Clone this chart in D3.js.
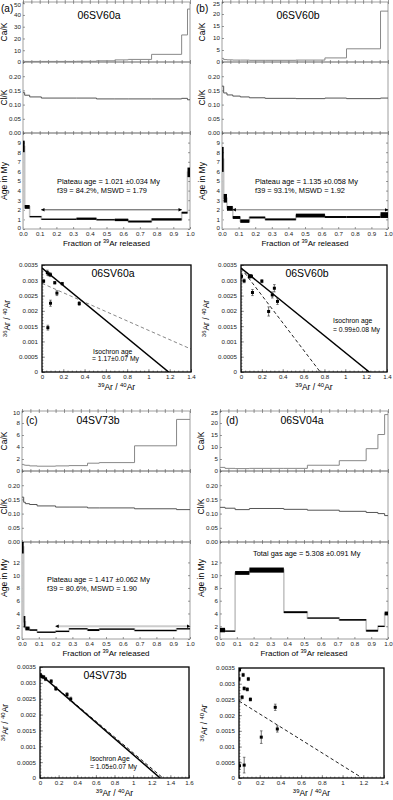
<!DOCTYPE html>
<html>
<head>
<meta charset="utf-8">
<script src="https://cdn.jsdelivr.net/npm/d3@7"></script>
<style>
  body { margin: 0; background: #fff; }
  svg { display: block; font-family: "Liberation Sans", Arial, sans-serif; }
</style>
</head>
<body>
<svg id="chart" width="393" height="800"></svg>
<script>
// ---------------- data: step heating spectra ----------------
// (a) 06SV60a
const fracA  = [0, 0.01, 0.04, 0.11, 0.32, 0.44, 0.55, 0.63, 0.77, 0.95, 0.985, 1.0];
const ageA   = [8.6, 2.3, 1.3, 1.02, 1.07, 0.98, 0.95, 0.78, 1.0, 1.7, 5.9];
const ageErrA = [0.6, 0.2, 0.05, 0.06, 0.12, 0.05, 0.13, 0.1, 0.12, 0.1, 0.5];
const caKA   = [0.6, 0.5, 0.5, 0.5, 0.6, 1.0, 1.8, 2.2, 6.5, 23, 45];
const clKA   = [0.142, 0.133, 0.127, 0.123, 0.123, 0.12, 0.12, 0.12, 0.12, 0.122, 0.117];

// (b) 06SV60b
const fracB  = [0, 0.01, 0.03, 0.065, 0.11, 0.165, 0.26, 0.445, 0.62, 0.75, 0.955, 1.0];
const ageB   = [7.25, 3.2, 2.15, 1.2, 0.82, 1.2, 1.0, 1.4, 1.25, 1.25, 1.45];
const ageErrB = [1.3, 0.45, 0.25, 0.15, 0.18, 0.1, 0.1, 0.2, 0.1, 0.1, 0.3];
const caKB   = [1.5, 1.0, 0.9, 0.8, 0.8, 0.7, 0.7, 0.8, 1.7, 5.5, 21.2];
const clKB   = [0.165, 0.141, 0.134, 0.13, 0.127, 0.124, 0.122, 0.121, 0.123, 0.121, 0.123];

// (c) 04SV73b
const fracC  = [0, 0.01, 0.02, 0.045, 0.09, 0.2, 0.28, 0.39, 0.46, 0.67, 0.92, 1.0];
const ageC   = [14.4, 2.7, 1.65, 1.4, 1.1, 1.2, 1.6, 1.4, 1.55, 1.35, 1.6];
const ageErrC = [1.0, 0.9, 0.3, 0.12, 0.06, 0.1, 0.1, 0.15, 0.1, 0.08, 0.1];
const caKC   = [1.1, 1.0, 0.95, 0.85, 0.8, 0.85, 0.9, 1.3, 1.4, 4.2, 8.6];
const clKC   = [0.158, 0.14, 0.135, 0.132, 0.127, 0.123, 0.123, 0.12, 0.12, 0.117, 0.114];

// (d) 06SV04a
const fracD  = [0, 0.03, 0.09, 0.175, 0.38, 0.52, 0.71, 0.87, 0.94, 0.98, 1.0];
const ageD   = [1.4, 1.25, 10.35, 10.8, 4.2, 3.3, 3.0, 1.3, 2.0, 4.0];
const ageErrD = [0.35, 0.08, 0.3, 0.4, 0.15, 0.08, 0.12, 0.15, 0.08, 0.3];
const caKD   = [1.5, 1.1, 1.0, 1.1, 1.1, 2.4, 4.3, 9.3, 15.2, 23.5];
const clKD   = [0.122, 0.119, 0.114, 0.118, 0.115, 0.112, 0.108, 0.104, 0.1, 0.093];

// ---------------- data: isochrons (39Ar/40Ar, 36Ar/40Ar, error) ----------------
const isoAx = [0.015, 0.05, 0.065, 0.08, 0.055, 0.08, 0.12, 0.14, 0.19, 0.35];
const isoAy = [0.00297, 0.00325, 0.0032, 0.00318, 0.00145, 0.00225, 0.00292, 0.00258, 0.00289, 0.00224];
const isoAe = [0.00005, 0.00008, 0.00006, 0.00006, 0.00008, 0.0001, 0.00004, 0.00008, 0.00004, 0.00006];
const isoAsolid  = [[0, 0.0034], [1.19, 0]];
const isoAdashed = [[0, 0.0029], [1.4, 0.00075]];

const isoBx = [0.005, 0.03, 0.08, 0.09, 0.1, 0.11, 0.2, 0.265, 0.3, 0.32, 0.35];
const isoBy = [0.00313, 0.00298, 0.00312, 0.00314, 0.00313, 0.0026, 0.00297, 0.00198, 0.00252, 0.00274, 0.00231];
const isoBe = [0.00008, 0.00006, 0.00005, 0.00005, 0.00005, 0.0001, 0.00005, 0.00015, 0.0001, 0.00012, 0.0001];
const isoBsolid  = [[0, 0.0034], [1.23, 0]];
const isoBdashed = [[0, 0.0034], [0.76, 0]];

const isoCx = [0.005, 0.02, 0.04, 0.06, 0.12, 0.17, 0.29, 0.33];
const isoCy = [0.00325, 0.0032, 0.00318, 0.00312, 0.00305, 0.00282, 0.00263, 0.00249];
const isoCe = [0.00005, 0.00005, 0.00005, 0.00005, 0.00005, 0.00006, 0.00006, 0.00006];
const isoCsolid  = [[0, 0.00328], [1.29, 0]];
const isoCdashed = [[0, 0.00328], [1.32, 0]];

const isoDx = [0.0, 0.005, 0.04, 0.05, 0.08, 0.09, 0.11, 0.03, 0.005, 0.05, 0.215, 0.35, 0.37];
const isoDy = [0.00315, 0.00345, 0.00328, 0.00285, 0.00282, 0.00315, 0.0025, 0.00257, 0.00039, 0.00041, 0.0013, 0.00225, 0.00156];
const isoDe = [0.00005, 0.00005, 0.00005, 0.00005, 0.00005, 0.00005, 0.00005, 0.00005, 0.00012, 0.00025, 0.0002, 0.0001, 0.0001];
const isoDdashed = [[0, 0.00245], [1.19, 0]];

const svg = d3.select('#chart');
const TICK_FS = 6.2;

// arrow marker for plateau lines
svg.append('defs').append('marker')
    .attr('id', 'arr').attr('viewBox', '0 0 10 10').attr('refX', 9).attr('refY', 5)
    .attr('markerUnits', 'userSpaceOnUse')
    .attr('markerWidth', 4).attr('markerHeight', 3.5).attr('orient', 'auto-start-reverse')
    .append('path').attr('d', 'M0,0 L10,5 L0,10 z').attr('fill', '#000');

// text with superscripts, parts = [[text, isSup], ...]
function addSup(t, parts, fs) {
    let up = false;
    parts.forEach(([s, sup]) => {
        const ts = t.append('tspan').text(s);
        if (sup) { ts.attr('font-size', fs * 0.7).attr('dy', -fs * 0.4); up = true; }
        else if (up) { ts.attr('dy', fs * 0.4); up = false; }
    });
}

function styleAxis(a) {
    a.attr('font-size', TICK_FS).attr('font-family', null);
    a.select('.domain').remove();
    a.selectAll('.tick line').attr('stroke', '#555').attr('stroke-width', 0.6);
    a.selectAll('.tick text').attr('fill', '#222');
}

/*************************** spectrum panels ***************************/
function drawSpectrum(c) {
    const g = svg.append('g');
    const x = d3.scaleLinear().domain([0, 1]).range([c.left, c.right]);
    const yCa = d3.scaleLinear().domain([0, c.caMax]).range([c.caBottom, c.top]);
    const yCl = d3.scaleLinear().domain([0, 0.25]).range([c.clBottom, c.caBottom]);
    const yAge = d3.scaleLinear().domain([0, c.ageMax]).range([c.bottom, c.clBottom]);

    const clipId = 'clip' + c.id;
    g.append('clipPath').attr('id', clipId).append('rect')
        .attr('x', c.left).attr('y', c.clBottom)
        .attr('width', c.right - c.left).attr('height', c.bottom - c.clBottom);

    // frames
    [[c.top, c.caBottom], [c.caBottom, c.clBottom], [c.clBottom, c.bottom]].forEach(([t, b]) => {
        g.append('rect').attr('x', c.left).attr('y', t)
            .attr('width', c.right - c.left).attr('height', b - t)
            .attr('fill', 'none').attr('stroke', '#777').attr('stroke-width', 0.7);
    });

    // small x ticks on every sub-panel edge
    const minor = d3.range(0, 1.0001, 0.05);
    [c.top, c.caBottom, c.clBottom].forEach(yy => {
        g.append('g').attr('transform', `translate(0,${yy})`)
            .call(d3.axisTop(x).tickValues(minor).tickSize(-2).tickFormat(''))
            .call(styleAxis);
        g.append('g').attr('transform', `translate(0,${yy})`)
            .call(d3.axisBottom(x).tickValues(minor).tickSize(-2).tickFormat(''))
            .call(styleAxis);
    });

    // y axes
    const caAxis = g.append('g').attr('transform', `translate(${c.left},0)`)
        .call(d3.axisLeft(yCa).tickValues(c.caTicks).tickSize(-2).tickPadding(2).tickFormat(d3.format('d')))
        .call(styleAxis);
    // keep the top label inside the picture
    caAxis.selectAll('.tick text').filter(d => d === c.caTicks[c.caTicks.length - 1]).attr('dy', '0.6em');
    g.append('g').attr('transform', `translate(${c.left},0)`)
        .call(d3.axisLeft(yCl).tickValues([0, 0.05, 0.1, 0.15, 0.2]).tickSize(-2).tickPadding(2).tickFormat(d3.format('.2f')))
        .call(styleAxis);
    const ageAxis = g.append('g').attr('transform', `translate(${c.left},0)`)
        .call(d3.axisLeft(yAge).tickValues(c.ageTicks).tickSize(-2).tickPadding(2).tickFormat(d3.format('d')))
        .call(styleAxis);
    ageAxis.selectAll('.tick text').filter(d => d === 0).attr('dy', '0.1em');
    g.append('g').attr('transform', `translate(${c.right},0)`)
        .call(d3.axisRight(yAge).tickValues(c.ageTicks).tickSize(-2).tickFormat(''))
        .call(styleAxis);
    g.append('g').attr('transform', `translate(0,${c.bottom})`)
        .call(d3.axisBottom(x).tickValues(d3.range(0, 1.0001, 0.1)).tickSize(-2).tickPadding(3).tickFormat(d3.format('.1f')))
        .call(styleAxis);

    // step helpers
    const pts = vals => vals.map((v, i) => [c.frac[i], v]).concat([[1, vals[vals.length - 1]]]);

    const caLine = d3.line().x(d => x(d[0])).y(d => yCa(d[1])).curve(d3.curveStepAfter);
    g.append('path').attr('d', caLine(pts(c.caK)))
        .attr('fill', 'none').attr('stroke', '#888').attr('stroke-width', 1);

    const clLine = d3.line().x(d => x(d[0])).y(d => yCl(d[1])).curve(d3.curveStepAfter);
    g.append('path').attr('d', clLine(pts(c.clK)))
        .attr('fill', 'none').attr('stroke', '#555').attr('stroke-width', 1);

    // age spectrum
    const ag = g.append('g').attr('clip-path', `url(#${clipId})`);
    const ageLine = d3.line().x(d => x(d[0])).y(d => yAge(d[1])).curve(d3.curveStepAfter);
    ag.append('path').attr('d', ageLine([[0, 0]].concat(pts(c.age))))
        .attr('fill', 'none').attr('stroke', '#c4c4c4').attr('stroke-width', 1.6);
    ag.selectAll('rect.step')
        .data(c.age)
        .enter().append('rect')
        .attr('class', 'step')
        .attr('x', (d, i) => x(c.frac[i]))
        .attr('width', (d, i) => x(c.frac[i + 1]) - x(c.frac[i]))
        .attr('y', (d, i) => yAge(d + c.ageErr[i]))
        .attr('height', (d, i) => Math.max(1.3, yAge(d - c.ageErr[i]) - yAge(d + c.ageErr[i])))
        .attr('fill', '#000');

    if (c.plateau) {
        const p = c.plateau;
        g.append('line')
            .attr('x1', x(p[0])).attr('x2', x(p[1]))
            .attr('y1', yAge(p[2])).attr('y2', yAge(p[2]))
            .attr('stroke', c.plateauColor).attr('stroke-width', c.plateauWidth)
            .attr('marker-start', 'url(#arr)').attr('marker-end', 'url(#arr)');
    }

    // annotation text
    c.notes.forEach(n => {
        g.append('text').attr('x', n[0]).attr('y', n[1]).attr('font-size', 7.4).text(n[2]);
    });

    // titles / labels
    g.append('text').attr('x', c.titleX).attr('y', c.titleY).attr('text-anchor', 'middle')
        .attr('font-size', 10.5).text(c.title);
    g.append('text').attr('x', c.letterX).attr('y', c.letterY).attr('font-size', 10).text(c.letter);

    const yl = (txt, cy) => g.append('text')
        .attr('transform', `translate(${c.labelX},${cy}) rotate(-90)`)
        .attr('text-anchor', 'middle').attr('font-size', 8.5).text(txt);
    yl('Ca/K', (c.top + c.caBottom) / 2);
    yl('Cl/K', (c.caBottom + c.clBottom) / 2);
    yl('Age in My', c.ageLabelY);

    const xl = g.append('text').attr('x', (c.left + c.right) / 2).attr('y', c.bottom + 17)
        .attr('text-anchor', 'middle').attr('font-size', 8);
    addSup(xl, [['Fraction of ', false], ['39', true], ['Ar  released', false]], 8);
}

/*************************** isochron panels ***************************/
function drawIso(c) {
    const g = svg.append('g');
    const x = d3.scaleLinear().domain([0, c.xMax]).range([c.left, c.right]);
    const y = d3.scaleLinear().domain([0, 0.0035]).range([c.bottom, c.top]);

    const clipId = 'iclip' + c.id;
    g.append('clipPath').attr('id', clipId).append('rect')
        .attr('x', c.left).attr('y', c.top)
        .attr('width', c.right - c.left).attr('height', c.bottom - c.top);

    const fmt = d => d === 0 ? '0' : String(+d.toFixed(4));
    g.append('g').attr('transform', `translate(${c.left},0)`)
        .call(d3.axisLeft(y).tickValues(d3.range(0, 0.00351, 0.0005)).tickSize(-3).tickPadding(4).tickFormat(fmt))
        .call(styleAxis);
    g.append('g').attr('transform', `translate(${c.left},0)`)
        .call(d3.axisLeft(y).tickValues(d3.range(0, 0.00351, 0.0001)).tickSize(-1.5).tickFormat(''))
        .call(styleAxis);
    g.append('g').attr('transform', `translate(0,${c.bottom})`)
        .call(d3.axisBottom(x).tickValues(d3.range(0, c.xMax + 0.001, 0.2)).tickSize(-3).tickPadding(2.5)
            .tickFormat(d => String(+d.toFixed(1))))
        .call(styleAxis);
    g.append('g').attr('transform', `translate(0,${c.bottom})`)
        .call(d3.axisBottom(x).tickValues(d3.range(0, c.xMax + 0.001, 0.04)).tickSize(-1.5).tickFormat(''))
        .call(styleAxis);

    const line = d3.line().x(d => x(d[0])).y(d => y(d[1]));
    const lg = g.append('g').attr('clip-path', `url(#${clipId})`);
    if (c.dashed) {
        lg.append('path').attr('d', line(c.dashed)).attr('fill', 'none')
            .attr('stroke', c.dashColor).attr('stroke-width', 1).attr('stroke-dasharray', '3.5,2.5');
    }
    if (c.solid) {
        lg.append('path').attr('d', line(c.solid)).attr('fill', 'none')
            .attr('stroke', '#000').attr('stroke-width', 1.5);
    }

    const pts = c.xs.map((v, i) => ({ x: v, y: c.ys[i], e: c.es[i] }));
    const pg = lg.selectAll('g.pt').data(pts).enter().append('g').attr('class', 'pt');
    pg.append('line')
        .attr('x1', d => x(d.x)).attr('x2', d => x(d.x))
        .attr('y1', d => y(d.y + d.e)).attr('y2', d => y(d.y - d.e))
        .attr('stroke', '#333').attr('stroke-width', 0.7);
    [1, -1].forEach(s => {
        pg.append('line')
            .attr('x1', d => x(d.x) - 1.3).attr('x2', d => x(d.x) + 1.3)
            .attr('y1', d => y(d.y + s * d.e)).attr('y2', d => y(d.y + s * d.e))
            .attr('stroke', '#333').attr('stroke-width', 0.6);
    });
    pg.append('rect')
        .attr('x', d => x(d.x) - 1.5).attr('y', d => y(d.y) - 1.5)
        .attr('width', 3).attr('height', 3).attr('fill', '#000');

    g.append('rect').attr('x', c.left).attr('y', c.top)
        .attr('width', c.right - c.left).attr('height', c.bottom - c.top)
        .attr('fill', 'none').attr('stroke', '#000').attr('stroke-width', 1.3);

    if (c.title) {
        g.append('text').attr('x', c.titleX).attr('y', c.top + 12).attr('text-anchor', 'middle')
            .attr('font-size', 10.5).text(c.title);
    }
    c.notes.forEach(n => {
        g.append('text').attr('x', n[0]).attr('y', n[1]).attr('font-size', 6.8).text(n[2]);
    });

    const yl = g.append('text')
        .attr('transform', `translate(${c.labelX},${(c.top + c.bottom) / 2}) rotate(-90)`)
        .attr('text-anchor', 'middle').attr('font-size', 8.5);
    addSup(yl, [['36', true], ['Ar / ', false], ['40', true], ['Ar', false]], 8.5);

    const xl = g.append('text').attr('x', (c.left + c.right) / 2).attr('y', c.bottom + 18)
        .attr('text-anchor', 'middle').attr('font-size', 8.5);
    addSup(xl, [['39', true], ['Ar / ', false], ['40', true], ['Ar', false]], 8.5);
}

// ---------------- panels ----------------
drawSpectrum({
    id: 'a', left: 23, right: 190, top: 2, caBottom: 62, clBottom: 133, bottom: 229,
    caMax: 51, caTicks: [0, 10, 20, 30, 40, 50], ageMax: 10, ageTicks: d3.range(0, 10),
    frac: fracA, age: ageA, ageErr: ageErrA, caK: caKA, clK: clKA,
    plateau: [0.11, 0.95, 2.0], plateauColor: '#000', plateauWidth: 0.7,
    notes: [[57, 184, 'Plateau age = 1.021 \u00b10.034 My'], [57, 193, 'f39 = 84.2%, MSWD = 1.79']],
    title: '06SV60a', titleX: 99, titleY: 19, letter: '(a)', letterX: 1, letterY: 12,
    labelX: 7, ageLabelY: 181
});
drawSpectrum({
    id: 'b', left: 222, right: 388, top: 2, caBottom: 62, clBottom: 133, bottom: 229,
    caMax: 25, caTicks: [0, 5, 10, 15, 20, 25], ageMax: 10, ageTicks: d3.range(0, 10),
    frac: fracB, age: ageB, ageErr: ageErrB, caK: caKB, clK: clKB,
    plateau: [0.065, 1.0, 2.0], plateauColor: '#333', plateauWidth: 0.7,
    notes: [[255, 184, 'Plateau age = 1.135 \u00b10.058 My'], [255, 193, 'f39 = 93.1%, MSWD = 1.92']],
    title: '06SV60b', titleX: 298, titleY: 19, letter: '(b)', letterX: 196, letterY: 12,
    labelX: 205, ageLabelY: 181
});
drawSpectrum({
    id: 'c', left: 22, right: 190, top: 411, caBottom: 471, clBottom: 542, bottom: 639,
    caMax: 10, caTicks: [0, 2, 4, 6, 8, 10], ageMax: 15.2, ageTicks: [0, 2, 4, 6, 8, 10, 12],
    frac: fracC, age: ageC, ageErr: ageErrC, caK: caKC, clK: clKC,
    plateau: [0.2, 1.0, 2.0], plateauColor: '#ccc', plateauWidth: 1.8,
    notes: [[47, 582, 'Plateau age = 1.417 \u00b10.062 My'], [47, 591, 'f39 = 80.6%, MSWD = 1.90']],
    title: '04SV73b', titleX: 98, titleY: 424, letter: '(c)', letterX: 26, letterY: 424,
    labelX: 7, ageLabelY: 578
});
drawSpectrum({
    id: 'd', left: 220, right: 388, top: 411, caBottom: 471, clBottom: 542, bottom: 639,
    caMax: 25, caTicks: [0, 5, 10, 15, 20, 25], ageMax: 15.2, ageTicks: [0, 2, 4, 6, 8, 10, 12],
    frac: fracD, age: ageD, ageErr: ageErrD, caK: caKD, clK: clKD,
    plateau: null,
    notes: [[253, 556, 'Total gas age = 5.308 \u00b10.091 My']],
    title: '06SV04a', titleX: 302, titleY: 424, letter: '(d)', letterX: 226, letterY: 424,
    labelX: 204, ageLabelY: 578
});

drawIso({
    id: 'a', left: 42, right: 191, top: 265, bottom: 372, xMax: 1.4,
    xs: isoAx, ys: isoAy, es: isoAe, solid: isoAsolid, dashed: isoAdashed, dashColor: '#888',
    title: '06SV60a', titleX: 113,
    notes: [[93, 354, 'Isochron age'], [92, 361, '= 1.17\u00b10.07 My']], labelX: 10
});
drawIso({
    id: 'b', left: 241, right: 387, top: 265, bottom: 372, xMax: 1.4,
    xs: isoBx, ys: isoBy, es: isoBe, solid: isoBsolid, dashed: isoBdashed, dashColor: '#222',
    title: '06SV60b', titleX: 307,
    notes: [[333, 323, 'Isochron age'], [333, 332, '= 0.99\u00b10.08 My']], labelX: 209
});
drawIso({
    id: 'c', left: 40, right: 189, top: 667, bottom: 778, xMax: 1.6,
    xs: isoCx, ys: isoCy, es: isoCe, solid: isoCsolid, dashed: isoCdashed, dashColor: '#222',
    title: '04SV73b', titleX: 105,
    notes: [[90, 761, 'Isochron Age'], [90, 769, '= 1.05\u00b10.07 My']], labelX: 8
});
drawIso({
    id: 'd', left: 239, right: 384, top: 668, bottom: 778, xMax: 1.4,
    xs: isoDx, ys: isoDy, es: isoDe, solid: null, dashed: isoDdashed, dashColor: '#222',
    title: null, notes: [], labelX: 207
});
</script>
</body>
</html>
